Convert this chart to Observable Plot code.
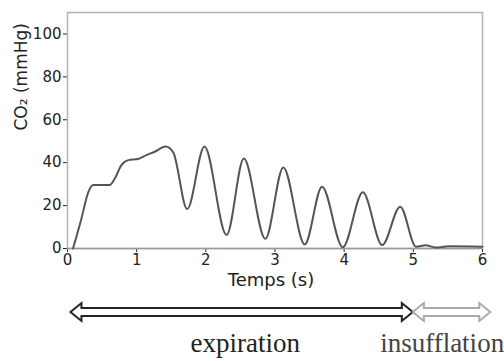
<!DOCTYPE html>
<html>
<head>
<meta charset="utf-8">
<script src="https://cdn.jsdelivr.net/npm/d3@7"></script>
<script src="https://cdn.jsdelivr.net/npm/@observablehq/plot@0.6"></script>
<style>
  html, body { margin: 0; padding: 0; background: #fff; overflow: hidden; }
</style>
</head>
<body>
<div id="chart"></div>
<script>
// CO2 capnogram: time (s) and CO2 (mmHg)
const time = [0.08, 0.20, 0.30, 0.37, 0.61, 0.68, 0.78, 0.88, 1.02, 1.14, 1.26, 1.42, 1.53, 1.73,
              1.98, 2.30, 2.55, 2.86, 3.12, 3.43, 3.68, 3.98, 4.27, 4.55, 4.81, 5.04, 5.18, 5.32, 5.51, 6.0];
const co2  = [0, 13.8, 26.2, 29.6, 29.6, 32.4, 38.9, 41.2, 41.7, 43.5, 45.1, 47.5, 44.7, 18.4,
              47.5, 6.3, 41.9, 4.5, 37.8, 1.9, 28.8, 0.6, 26.2, 1.6, 19.5, 0.8, 1.5, 0.5, 1.0, 0.8];

const xTicks = [0, 1, 2, 3, 4, 5, 6];
const yTicks = [0, 20, 40, 60, 80, 100];

// phases shown under the chart
const phaseLabels = ["expiration", "insufflation"];
const phaseStart  = [0.05, 5.0];
const phaseEnd    = [5.0, 6.12];
const labelX      = [1.78, 4.52];
const phaseColors = ["#222", "#aaa"];
const labelColors = ["#222", "#444"];

const data = time.map((t, i) => ({t, v: co2[i]}));
const phases = phaseLabels.map((label, i) => ({label, x: labelX[i]}));

const chart = Plot.plot({
  width: 504,
  height: 361,
  marginLeft: 67,
  marginRight: 22,
  marginTop: 12,
  marginBottom: 113,
  style: {fontFamily: "DejaVu Sans", fontSize: "15px", color: "#222", background: "#fff"},
  x: {domain: [0, 6], ticks: xTicks, tickSize: 4, tickPadding: 2, label: null, tickFormat: d3.format("d")},
  y: {domain: [0, 110], ticks: yTicks, tickSize: 4, tickPadding: 2, label: null},
  marks: [
    Plot.frame({stroke: "#b3b3b3", strokeWidth: 1.5}),
    Plot.ruleY([0], {stroke: "#999", strokeWidth: 1.5}),
    Plot.line(data, {x: "t", y: "v", stroke: "#555", strokeWidth: 2, curve: "monotone-x"}),
    Plot.text(["CO₂ (mmHg)"], {frameAnchor: "left", dx: -46, rotate: -90, text: d => d, fontSize: 17, fill: "#222"}),
    Plot.text(["Temps (s)"], {frameAnchor: "bottom", dy: 37, dx: -4, text: d => d, fontSize: 18, fill: "#222"}),
    Plot.text(phases, {x: "x", frameAnchor: "bottom", dy: 103, text: "label", textAnchor: "start",
      fontFamily: "Liberation Serif", fontSize: 27, fill: (d) => labelColors[phaseLabels.indexOf(d.label)]})
  ]
});

document.getElementById("chart").appendChild(chart);

// hollow double-headed arrows, positioned with the plot's x scale
const xs = chart.scale("x");
const X = xs.apply ? (v) => xs.apply(v) : d3.scaleLinear(xs.domain, xs.range);
const cy = 312, H = 9, S = 4, L = 11;
const svg = d3.select(chart.tagName.toLowerCase() === "svg" ? chart : chart.querySelector("svg"));
phaseLabels.forEach((p, i) => {
  const x1 = X(phaseStart[i]), x2 = X(phaseEnd[i]);
  const pts = [[x1, cy], [x1 + L, cy - H], [x1 + L, cy - S], [x2 - L, cy - S], [x2 - L, cy - H],
               [x2, cy], [x2 - L, cy + H], [x2 - L, cy + S], [x1 + L, cy + S], [x1 + L, cy + H]];
  svg.append("path")
    .attr("d", "M" + pts.map(p => p.join(",")).join("L") + "Z")
    .attr("fill", i === 0 ? "#fff" : "none")
    .attr("stroke", phaseColors[i])
    .attr("stroke-width", 2)
    .attr("stroke-linejoin", "miter");
});
</script>
</body>
</html>
